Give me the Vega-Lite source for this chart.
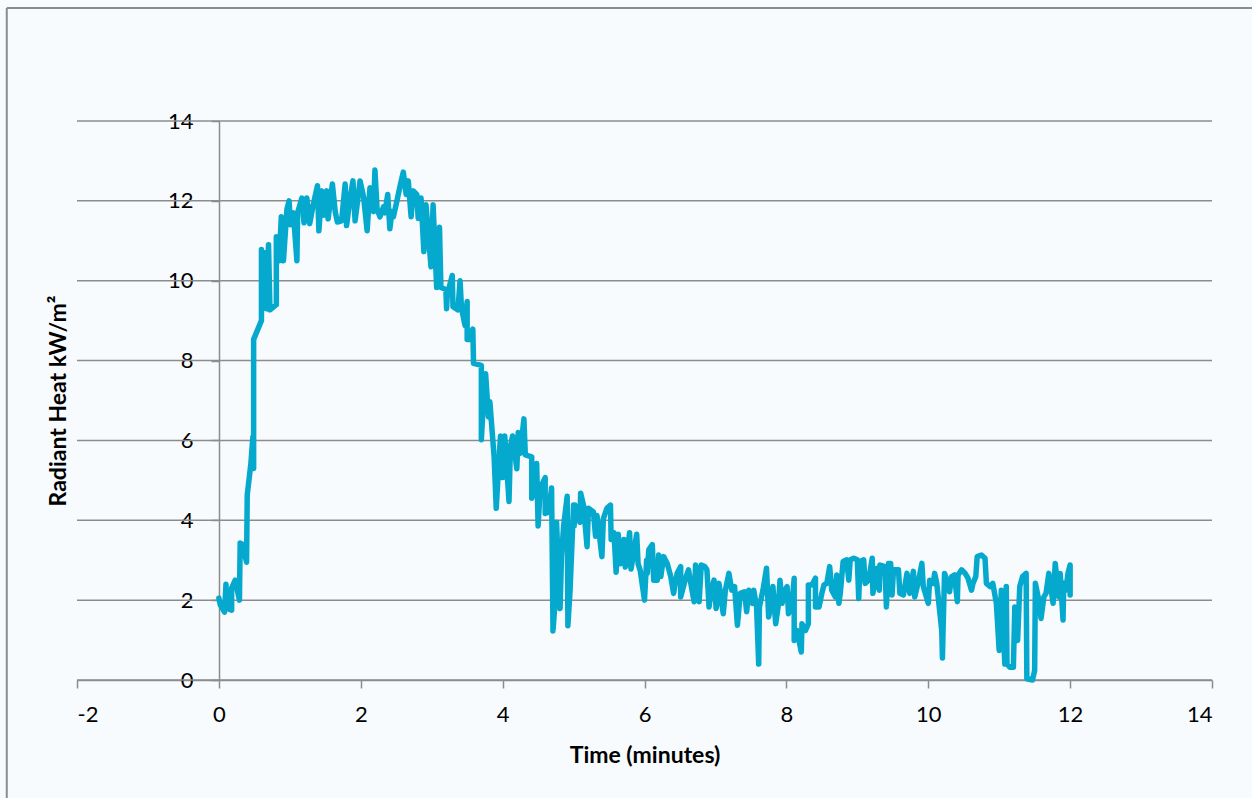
{
  "$schema": "https://vega.github.io/schema/vega-lite/v6.json",
  "width": 1135,
  "height": 559,
  "autosize": {"type": "none"},
  "padding": {"left": 77, "top": 121, "right": 40, "bottom": 118},
  "background": "#F7FBFD",
  "config": {
    "view": {"stroke": null},
    "font": "Lato",
    "axis": {
      "labelFont": "Lato",
      "titleFont": "Lato",
      "labelColor": "#000000",
      "titleColor": "#000000",
      "domainColor": "#8C8C8C",
      "tickColor": "#8C8C8C",
      "domainWidth": 1.5,
      "tickWidth": 1.5,
      "grid": false
    }
  },
  "layer": [
    {
      "data": {"values": [{"g": 0}, {"g": 2}, {"g": 4}, {"g": 6}, {"g": 8}, {"g": 10}, {"g": 12}, {"g": 14}]},
      "mark": {"type": "rule", "color": "#8C8C8C", "strokeWidth": 1.5},
      "encoding": {
        "y": {"field": "g", "type": "quantitative", "scale": {"domain": [0, 14], "nice": false}}
      }
    },
    {
      "data": {"values": [{}]},
      "mark": {"type": "rule", "color": "#8C8C8C", "strokeWidth": 2},
      "encoding": {
        "x": {"datum": -2.99, "type": "quantitative"},
        "x2": {"datum": 15},
        "y": {"datum": 16.83, "type": "quantitative"}
      }
    },
    {
      "data": {"values": [{}]},
      "mark": {"type": "rule", "color": "#8C8C8C", "strokeWidth": 2},
      "encoding": {
        "x": {"datum": -2.99, "type": "quantitative"},
        "y": {"datum": 16.83, "type": "quantitative"},
        "y2": {"datum": -3}
      }
    },
    {
      "data": {"values": [
        {"t":0,"v":2.05},{"t":0.02,"v":1.88},{"t":0.08,"v":1.7},{"t":0.1,"v":2.4},{"t":0.11,"v":1.8},{"t":0.18,"v":1.75},{"t":0.18,"v":2.3},{"t":0.23,"v":2.5},{"t":0.29,"v":2.0},{"t":0.3,"v":3.43},{"t":0.33,"v":3.4},{"t":0.39,"v":2.95},{"t":0.4,"v":4.64},{"t":0.45,"v":5.4},{"t":0.48,"v":6.1},{"t":0.49,"v":5.3},{"t":0.49,"v":8.53},{"t":0.6,"v":9.0},{"t":0.6,"v":10.78},{"t":0.62,"v":10.2},{"t":0.65,"v":10.7},{"t":0.67,"v":9.3},{"t":0.7,"v":10.9},{"t":0.72,"v":9.27},{"t":0.81,"v":9.4},{"t":0.81,"v":11.1},{"t":0.85,"v":10.5},{"t":0.88,"v":11.6},{"t":0.91,"v":10.5},{"t":0.96,"v":11.8},{"t":0.99,"v":12.0},{"t":1.01,"v":11.4},{"t":1.05,"v":11.7},{"t":1.1,"v":10.5},{"t":1.11,"v":11.7},{"t":1.17,"v":12.07},{"t":1.2,"v":11.45},{"t":1.24,"v":12.07},{"t":1.28,"v":11.43},{"t":1.33,"v":11.9},{"t":1.39,"v":12.38},{"t":1.41,"v":11.25},{"t":1.45,"v":12.25},{"t":1.48,"v":11.64},{"t":1.52,"v":12.25},{"t":1.54,"v":11.55},{"t":1.6,"v":12.42},{"t":1.64,"v":11.73},{"t":1.67,"v":11.47},{"t":1.73,"v":11.5},{"t":1.78,"v":12.42},{"t":1.8,"v":11.38},{"t":1.85,"v":12.07},{"t":1.89,"v":12.5},{"t":1.92,"v":11.5},{"t":1.97,"v":12.2},{"t":1.99,"v":12.5},{"t":2.04,"v":12.1},{"t":2.09,"v":11.25},{"t":2.13,"v":12.33},{"t":2.18,"v":11.73},{"t":2.2,"v":12.77},{"t":2.23,"v":11.8},{"t":2.27,"v":11.6},{"t":2.32,"v":11.85},{"t":2.34,"v":11.7},{"t":2.38,"v":12.16},{"t":2.41,"v":11.3},{"t":2.44,"v":11.73},{"t":2.46,"v":11.6},{"t":2.51,"v":12.0},{"t":2.56,"v":12.42},{"t":2.6,"v":12.72},{"t":2.64,"v":12.16},{"t":2.67,"v":12.5},{"t":2.71,"v":11.6},{"t":2.74,"v":12.25},{"t":2.79,"v":12.16},{"t":2.81,"v":11.56},{"t":2.85,"v":12.07},{"t":2.89,"v":10.73},{"t":2.92,"v":11.9},{"t":2.99,"v":10.35},{"t":3.02,"v":11.9},{"t":3.07,"v":9.83},{"t":3.11,"v":11.34},{"t":3.13,"v":9.83},{"t":3.2,"v":9.78},{"t":3.21,"v":9.3},{"t":3.22,"v":9.65},
        {"t":3.29,"v":10.13},{"t":3.3,"v":9.35},{"t":3.37,"v":9.27},{"t":3.4,"v":10.0},{"t":3.42,"v":9.31},{"t":3.47,"v":8.88},{"t":3.5,"v":9.48},{"t":3.5,"v":8.53},{"t":3.54,"v":8.53},{"t":3.58,"v":8.79},{"t":3.59,"v":7.93},{"t":3.7,"v":7.88},{"t":3.7,"v":6.02},{"t":3.73,"v":6.97},{"t":3.76,"v":7.67},{"t":3.8,"v":6.59},{"t":3.82,"v":6.97},{"t":3.88,"v":5.59},{"t":3.91,"v":4.3},{"t":3.94,"v":5.25},{"t":3.97,"v":6.11},{"t":4.0,"v":5.07},{"t":4.03,"v":6.11},{"t":4.09,"v":4.47},{"t":4.11,"v":5.85},{"t":4.14,"v":6.11},{"t":4.2,"v":5.29},{"t":4.22,"v":6.2},{"t":4.25,"v":5.68},{"t":4.3,"v":6.54},{"t":4.32,"v":5.64},{"t":4.41,"v":5.59},{"t":4.41,"v":4.55},{"t":4.48,"v":5.42},{"t":4.5,"v":3.86},{"t":4.53,"v":4.81},{"t":4.6,"v":5.07},{"t":4.6,"v":4.17},{"t":4.65,"v":4.21},{"t":4.69,"v":4.81},{"t":4.71,"v":1.23},{"t":4.74,"v":1.96},{"t":4.76,"v":3.95},{"t":4.81,"v":1.79},{"t":4.83,"v":3.09},{"t":4.86,"v":3.86},{"t":4.91,"v":4.6},{"t":4.92,"v":1.36},{"t":4.95,"v":2.22},{"t":5.0,"v":4.38},{"t":5.01,"v":3.86},{"t":5.02,"v":4.38},{"t":5.09,"v":3.95},{"t":5.1,"v":4.68},{"t":5.14,"v":4.38},{"t":5.19,"v":3.34},{"t":5.21,"v":4.3},{"t":5.28,"v":4.21},{"t":5.31,"v":3.6},{"t":5.33,"v":4.12},{"t":5.4,"v":3.09},{"t":5.42,"v":4.04},{"t":5.47,"v":4.3},{"t":5.52,"v":4.38},{"t":5.53,"v":3.52},{"t":5.57,"v":3.69},{"t":5.6,"v":2.7},{"t":5.63,"v":3.65},{"t":5.66,"v":2.91},{"t":5.71,"v":3.52},{"t":5.73,"v":2.83},{"t":5.79,"v":3.69},{"t":5.81,"v":2.78},{"t":5.89,"v":3.65},{"t":5.91,"v":2.91},{"t":5.94,"v":2.74},{"t":6.0,"v":2.0},{"t":6.03,"v":3.0},
        {"t":6.04,"v":2.67},{"t":6.06,"v":3.26},{"t":6.11,"v":3.39},{"t":6.13,"v":2.5},{"t":6.18,"v":2.5},{"t":6.2,"v":3.13},{"t":6.23,"v":2.59},{"t":6.27,"v":3.09},{"t":6.32,"v":2.92},{"t":6.37,"v":2.59},{"t":6.41,"v":2.17},{"t":6.46,"v":2.67},{"t":6.51,"v":2.84},{"t":6.51,"v":2.08},{"t":6.58,"v":2.55},{"t":6.62,"v":2.76},{"t":6.67,"v":2.25},{"t":6.7,"v":1.96},{"t":6.72,"v":2.88},{"t":6.77,"v":1.96},{"t":6.8,"v":2.88},{"t":6.85,"v":2.84},{"t":6.88,"v":2.76},{"t":6.91,"v":1.83},{"t":6.94,"v":2.25},{"t":6.98,"v":2.5},{"t":7.01,"v":1.79},{"t":7.05,"v":2.42},{"t":7.11,"v":1.66},{"t":7.14,"v":2.25},{"t":7.19,"v":2.67},{"t":7.23,"v":2.25},{"t":7.27,"v":2.34},{"t":7.31,"v":1.37},{"t":7.35,"v":2.17},{"t":7.41,"v":2.21},{"t":7.44,"v":1.71},{"t":7.47,"v":2.25},{"t":7.52,"v":1.92},{"t":7.54,"v":2.25},{"t":7.58,"v":1.83},{"t":7.61,"v":0.4},{"t":7.62,"v":1.83},{"t":7.67,"v":2.25},{"t":7.72,"v":2.8},{"t":7.75,"v":1.58},{"t":7.78,"v":1.83},{"t":7.81,"v":2.34},{"t":7.85,"v":1.41},{"t":7.89,"v":1.92},{"t":7.91,"v":2.5},{"t":7.94,"v":1.92},{"t":7.96,"v":2.17},{"t":8.01,"v":2.34},{"t":8.03,"v":1.66},{"t":8.08,"v":1.92},{"t":8.11,"v":2.55},{"t":8.11,"v":0.99},{"t":8.15,"v":1.24},{"t":8.21,"v":0.7},{"t":8.22,"v":1.41},{"t":8.27,"v":1.24},{"t":8.31,"v":1.41},{"t":8.31,"v":2.38},{"t":8.36,"v":2.38},{"t":8.41,"v":2.55},{"t":8.41,"v":1.83},{"t":8.46,"v":1.83},{"t":8.5,"v":2.17},{"t":8.53,"v":2.38},{"t":8.57,"v":2.42},{"t":8.61,"v":2.84},{"t":8.64,"v":2.25},{"t":8.69,"v":2.08},{"t":8.71,"v":2.63},{"t":8.74,"v":1.92},{"t":8.76,"v":2.17},{"t":8.8,"v":2.97},{"t":8.85,"v":3.01},{"t":8.88,"v":2.5},{"t":8.9,"v":3.01},{"t":8.95,"v":3.05},{"t":9.0,"v":3.01},{"t":9.02,"v":2.04},{"t":9.04,"v":2.97},{"t":9.09,"v":3.01},{"t":9.11,"v":2.42},{"t":9.16,"v":2.5},{"t":9.21,"v":3.05},{"t":9.22,"v":2.17},{"t":9.28,"v":2.8},{"t":9.31,"v":2.25},{"t":9.32,"v":2.88},{"t":9.39,"v":2.84},{"t":9.41,"v":1.83},{"t":9.44,"v":2.92},{"t":9.47,"v":2.92},{"t":9.49,"v":2.13},{"t":9.51,"v":2.76},{"t":9.58,"v":2.76},{"t":9.6,"v":2.17},
        {"t":9.65,"v":2.13},{"t":9.7,"v":2.67},{"t":9.74,"v":2.17},{"t":9.79,"v":2.72},{"t":9.81,"v":2.08},{"t":9.86,"v":2.46},{"t":9.91,"v":2.92},{"t":9.93,"v":2.34},{"t":10.0,"v":1.92},{"t":10.02,"v":2.5},{"t":10.07,"v":2.42},{"t":10.09,"v":2.67},{"t":10.12,"v":2.42},{"t":10.19,"v":1.24},{"t":10.2,"v":0.55},{"t":10.21,"v":1.33},{"t":10.23,"v":2.67},{"t":10.28,"v":2.42},{"t":10.3,"v":2.21},{"t":10.33,"v":2.59},{"t":10.37,"v":2.63},{"t":10.41,"v":1.96},{"t":10.42,"v":2.63},{"t":10.47,"v":2.76},{"t":10.52,"v":2.67},{"t":10.56,"v":2.55},{"t":10.61,"v":2.25},{"t":10.63,"v":2.42},{"t":10.67,"v":2.59},{"t":10.69,"v":3.09},{"t":10.75,"v":3.13},{"t":10.8,"v":3.05},{"t":10.82,"v":2.42},{"t":10.87,"v":2.34},{"t":10.91,"v":2.42},{"t":10.96,"v":1.92},{"t":11.0,"v":0.74},{"t":11.03,"v":2.25},{"t":11.08,"v":0.4},{"t":11.1,"v":2.34},{"t":11.11,"v":0.4},{"t":11.15,"v":0.32},{"t":11.2,"v":0.32},{"t":11.22,"v":1.83},{"t":11.26,"v":0.99},{"t":11.29,"v":2.34},{"t":11.33,"v":2.59},{"t":11.38,"v":2.67},{"t":11.39,"v":0.03},{"t":11.47,"v":0.0},{"t":11.5,"v":0.24},{"t":11.51,"v":2.42},{"t":11.55,"v":2.08},{"t":11.59,"v":1.54},{"t":11.63,"v":2.08},{"t":11.66,"v":2.17},{"t":11.7,"v":2.67},{"t":11.76,"v":1.92},{"t":11.79,"v":2.92},{"t":11.84,"v":2.08},{"t":11.86,"v":2.67},{"t":11.9,"v":1.5},{"t":11.91,"v":2.42},{"t":11.94,"v":2.25},{"t":11.97,"v":2.67},{"t":12.0,"v":2.88},{"t":12.0,"v":2.13}
      ]},
      "mark": {"type": "line", "color": "#06A9CE", "strokeWidth": 5.5, "strokeJoin": "round", "strokeCap": "round", "clip": false},
      "encoding": {
        "x": {
          "field": "t", "type": "quantitative",
          "scale": {"domain": [-2, 14], "nice": false, "zero": false},
          "axis": {
            "title": "Time (minutes)",
            "values": [-2, 0, 2, 4, 6, 8, 10, 12, 14],
            "labelExpr": "'' + datum.value",
            "tickSize": 8,
            "labelFontSize": 22,
            "labelPadding": 16,
            "titleFontSize": 23,
            "titleFontWeight": "bold",
            "titleBaseline": "middle",
            "titleY": 75
          }
        },
        "y": {
          "field": "v", "type": "quantitative",
          "scale": {"domain": [0, 14], "nice": false},
          "axis": {
            "title": "Radiant Heat kW/m²",
            "values": [0, 2, 4, 6, 8, 10, 12, 14],
            "labelExpr": "'' + datum.value",
            "offset": -142,
            "tickSize": 8,
            "labelFontSize": 22,
            "labelPadding": 18,
            "labelBaseline": "middle",
            "titleFontSize": 23,
            "titleFontWeight": "bold",
            "titleX": -161,
            "titleY": 279.5,
            "titleAlign": "center",
            "titleBaseline": "middle",
            "titleAngle": -90
          }
        },
        "order": {"value": null}
      }
    }
  ]
}
